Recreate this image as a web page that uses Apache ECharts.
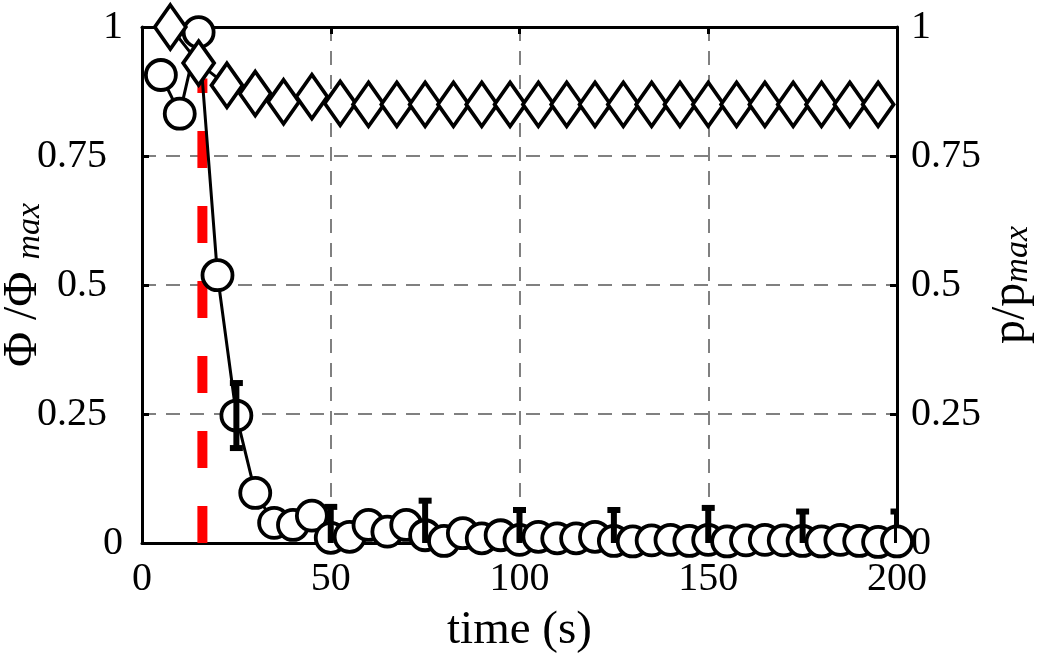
<!DOCTYPE html>
<html>
<head>
<meta charset="utf-8">
<script src="https://cdn.jsdelivr.net/npm/echarts@6/dist/echarts.min.js"></script>
<style>
html,body{margin:0;padding:0;background:#fff;}
#chart{width:1055px;height:655px;}
</style>
</head>
<body>
<div id="chart"></div>
<script>
// ---- data ----
const timePhi = [5,10,15,20,25,30,35,40,45,50,55,60,65,70,75,80,85,90,95,100,
                 105,110,115,120,125,130,135,140,145,150,155,160,165,170,175,180,185,190,195,200];
const phiRatio = [0.907,0.832,0.990,0.519,0.247,0.097,0.039,0.035,0.053,0.010,
                  0.012,0.035,0.022,0.035,0.015,0.004,0.019,0.009,0.015,0.006,
                  0.012,0.009,0.009,0.012,0.004,0.003,0.005,0.006,0.004,0.006,
                  0.003,0.005,0.006,0.005,0.004,0.003,0.006,0.004,0.002,0.003];
const errTimes = [25,50,75,100,125,150,175,200];
const errHalf  = [0.063,0.060,0.067,0.058,0.060,0.062,0.057,0.058];
const timeP = [7.5,15,22.5,30,37.5,45,52.5,60,67.5,75,82.5,90,97.5,105,112.5,120,
               127.5,135,142.5,150,157.5,165,172.5,180,187.5,195];
const pRatio = [1.000,0.930,0.887,0.871,0.855,0.865,0.852,0.850,0.850,0.850,0.850,0.850,0.850,
                0.850,0.850,0.850,0.850,0.850,0.850,0.850,0.850,0.850,0.850,0.850,0.850,0.850];
const markerTime = 16;
const markerSpan = [0, 0.9];
const xTickLabels = ['0','50','100','150','200'];
const yTickLabels = ['0','0.25','0.5','0.75','1'];

const FONT = 'Liberation Serif';
const phiData = timePhi.map((t,i)=>[t, phiRatio[i]]);
const pData = timeP.map((t,i)=>[t, pRatio[i]]);
const errData = errTimes.map((t,i)=>[t, phiRatio[timePhi.indexOf(t)], errHalf[i]]);
const redData = markerSpan.map(v=>[markerTime, v]);

const chart = echarts.init(document.getElementById('chart'), null, {renderer:'canvas'});
const gridDash = {color:'#808080', width:2, type:[14,10]};
const axisLineS = {show:true, onZero:false, lineStyle:{color:'#000', width:3}};
const tickS = {show:true, inside:true, length:7, lineStyle:{color:'#000', width:3}};

const fmtY = (v)=>{ const i = Math.round(v*4); return yTickLabels[i]; };
const nameRich = {
  a:{fontFamily:FONT, fontSize:48, color:'#000', lineHeight:48, verticalAlign:'bottom'},
  b:{fontFamily:FONT, fontSize:34, fontStyle:'italic', color:'#000', lineHeight:82, verticalAlign:'bottom'}
};

chart.setOption({
  animation:false,
  backgroundColor:'#fff',
  grid:{left:142, right:158, top:27, bottom:112, containLabel:false, outerBoundsMode:'none'},
  xAxis:[{
    type:'value', position:'bottom', min:0, max:200, interval:50,
    axisLine:axisLineS, axisTick:tickS,
    axisLabel:{fontFamily:FONT, fontSize:40, color:'#000', margin:16,
               formatter:(v)=>xTickLabels[Math.round(v/50)]},
    splitLine:{show:true, lineStyle:gridDash},
    name:'time (s)', nameLocation:'middle', nameGap:64, nameMoveOverlap:false,
    nameTextStyle:{fontFamily:FONT, fontSize:47, color:'#000'}
  },{
    type:'value', position:'top', min:0, max:200, interval:50,
    axisLine:axisLineS, axisTick:tickS, axisLabel:{show:false}, splitLine:{show:false}
  }],
  yAxis:[{
    type:'value', position:'left', min:0, max:1, interval:0.25,
    axisLine:axisLineS, axisTick:tickS,
    axisLabel:{fontFamily:FONT, fontSize:40, color:'#000', margin:35,
               formatter:(v)=> (v===0||v===1) ? '' : fmtY(v)},
    splitLine:{show:true, lineStyle:gridDash},
    name:'{a|Φ /Φ }{b|max}', nameLocation:'middle', nameGap:95, nameRotate:90,
    nameMoveOverlap:false,
    nameTextStyle:{rich:nameRich}
  },{
    type:'value', position:'left', min:0, max:1, interval:0.25,
    axisLine:{show:false}, axisTick:{show:false}, splitLine:{show:false},
    axisLabel:{fontFamily:FONT, fontSize:40, color:'#000', margin:19,
               formatter:(v)=> (v===0||v===1) ? fmtY(v) : ''}
  },{
    type:'value', position:'right', min:0, max:1, interval:0.25,
    axisLine:axisLineS, axisTick:tickS, splitLine:{show:false},
    axisLabel:{fontFamily:FONT, fontSize:40, color:'#000', margin:14, formatter:fmtY},
    name:'{a|p/p}{b|max}', nameLocation:'middle', nameGap:56, nameRotate:90,
    nameMoveOverlap:false,
    nameTextStyle:{rich:nameRich}
  }],
  series:[{
    type:'line', name:'marker', data:redData, xAxisIndex:0, yAxisIndex:0,
    symbol:'none', clip:false, z:1, silent:true,
    lineStyle:{color:'#ff0000', width:10, type:[37,38], cap:'butt'}
  },{
    type:'line', name:'phi', data:phiData, xAxisIndex:0, yAxisIndex:0,
    symbol:'circle', symbolSize:30, clip:false, z:3,
    lineStyle:{color:'#000', width:3},
    itemStyle:{color:'#fff', borderColor:'#000', borderWidth:3.8}
  },{
    type:'line', name:'p', data:pData, xAxisIndex:0, yAxisIndex:2,
    symbol:'diamond', symbolSize:[31,44], clip:false, z:4,
    lineStyle:{color:'#000', width:3},
    itemStyle:{color:'#fff', borderColor:'#000', borderWidth:3.8}
  },{
    type:'custom', name:'err', data:errData, xAxisIndex:0, yAxisIndex:0, z:5, clip:true,
    encode:{x:0, y:1},
    renderItem:(params, api)=>{
      const t = api.value(0), v = api.value(1), e = api.value(2);
      const top = api.coord([t, v+e]);
      const bot = api.coord([t, v-e]);
      const w = 6.5;
      const st = {stroke:'#000', lineWidth:6, fill:null};
      return {type:'group', children:[
        {type:'line', shape:{x1:top[0], y1:top[1], x2:bot[0], y2:bot[1]}, style:st},
        {type:'line', shape:{x1:top[0]-w, y1:top[1], x2:top[0]+w, y2:top[1]}, style:st},
        {type:'line', shape:{x1:bot[0]-w, y1:bot[1], x2:bot[0]+w, y2:bot[1]}, style:st}
      ]};
    }
  }]
});
</script>
</body>
</html>
